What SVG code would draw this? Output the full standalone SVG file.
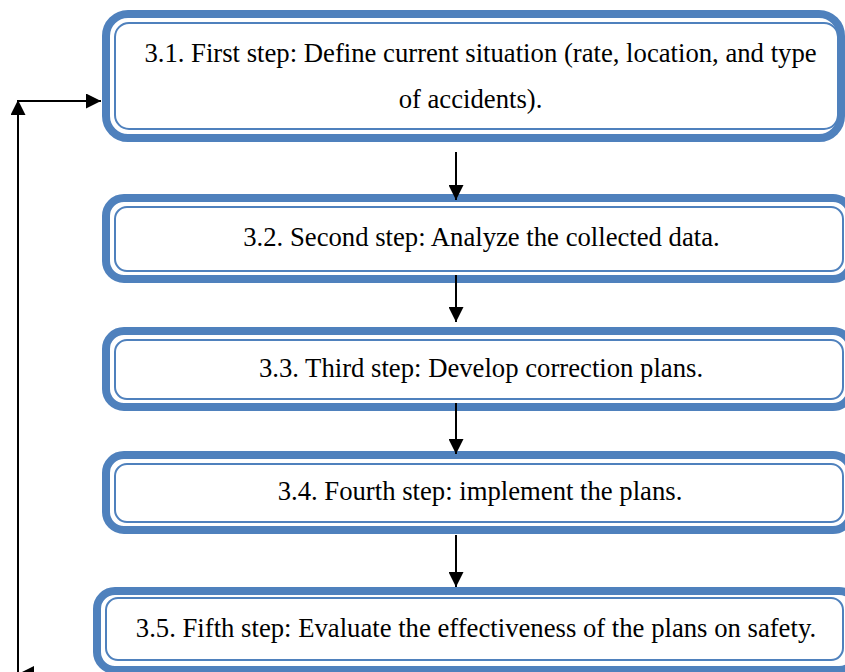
<svg xmlns="http://www.w3.org/2000/svg" width="845" height="672" viewBox="0 0 845 672">
<style>
.band{fill:#ffffff;stroke:#4F81BD;stroke-width:8}
.thin{fill:none;stroke:#4F81BD;stroke-width:2}
.lbl{font-family:"Liberation Serif","Times New Roman",serif;font-size:26.7px;fill:#000000;text-anchor:middle}
.con{stroke:#000000;stroke-width:2;fill:none}
</style>
<defs>
<marker id="ah" markerUnits="userSpaceOnUse" markerWidth="15" markerHeight="15" refX="15" refY="7.5" orient="auto">
<path d="M0,0 L15,7.5 L0,15 z" fill="#000000"/>
</marker>
</defs>
<g id="step1">
<rect class="band" x="106" y="14" width="735" height="124" rx="22"/>
<rect class="thin" x="115" y="23" width="723" height="106" rx="14"/>
<text class="lbl" x="480.5" y="62">3.1. First step: Define current situation (rate, location, and type</text>
<text class="lbl" x="470.5" y="108">of accidents).</text>
</g>
<g id="step2">
<rect class="band" x="106" y="198" width="745" height="81" rx="18"/>
<rect class="thin" x="115" y="207" width="728" height="64" rx="12"/>
<text class="lbl" x="481.5" y="246">3.2. Second step: Analyze the collected data.</text>
</g>
<g id="step3">
<rect class="band" x="106" y="331" width="745" height="76" rx="18"/>
<rect class="thin" x="115" y="340" width="728" height="59" rx="12"/>
<text class="lbl" x="481" y="377">3.3. Third step: Develop correction plans.</text>
</g>
<g id="step4">
<rect class="band" x="106" y="455" width="745" height="75" rx="18"/>
<rect class="thin" x="115" y="464" width="728" height="58" rx="12"/>
<text class="lbl" x="480" y="500">3.4. Fourth step: implement the plans.</text>
</g>
<g id="step5">
<rect class="band" x="97" y="591" width="760" height="79" rx="18"/>
<rect class="thin" x="106" y="598" width="737" height="62" rx="12"/>
<text class="lbl" x="476" y="637">3.5. Fifth step: Evaluate the effectiveness of the plans on safety.</text>
</g>
<g id="connectors">
<line class="con" x1="456" y1="152" x2="456" y2="200" marker-end="url(#ah)"/>
<line class="con" x1="456" y1="275" x2="456" y2="322" marker-end="url(#ah)"/>
<line class="con" x1="456" y1="403" x2="456" y2="454" marker-end="url(#ah)"/>
<line class="con" x1="456" y1="535" x2="456" y2="587" marker-end="url(#ah)"/>
<line class="con" x1="18" y1="672" x2="18" y2="100" marker-end="url(#ah)"/>
<line class="con" x1="17" y1="101" x2="101" y2="101" marker-end="url(#ah)"/>
<polygon points="20,673 34,666 34,680" fill="#000000"/>
</g>
</svg>
